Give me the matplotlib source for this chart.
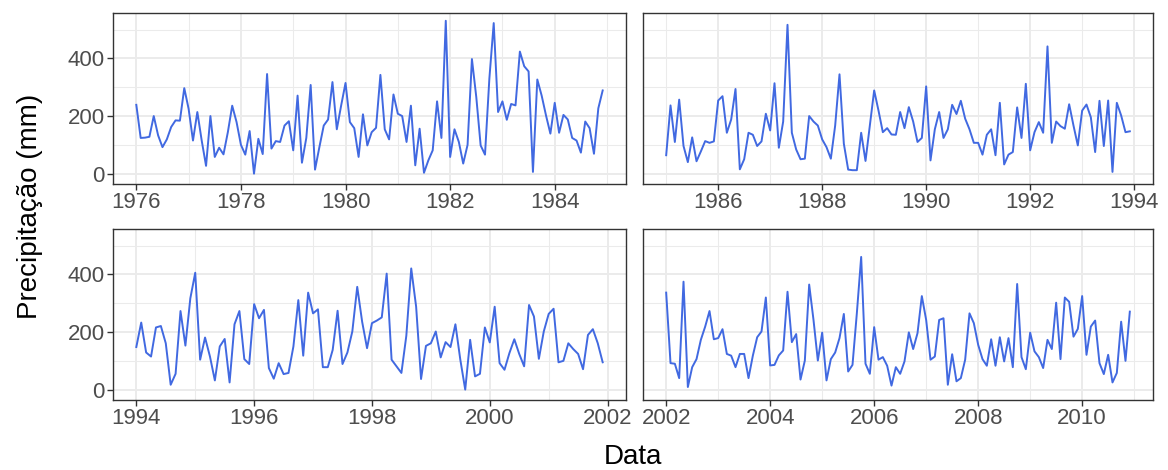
#!/usr/bin/env python3
"""
Monthly precipitation 1976-2010, split in four panels (ggplot theme_bw look).
"""

import numpy as np
import matplotlib
matplotlib.use('Agg')
import matplotlib.pyplot as plt

plt.rcParams['font.family'] = ['Liberation Sans', 'DejaVu Sans']

# monthly values (mm), one list per panel, Jan..Dec for each year
start_years = [1976, 1985, 1994, 2002]

precip_1976_1984 = [
    239, 124, 125, 128, 200, 133, 92, 119, 162, 185, 184, 297,
    225, 115, 214, 115, 27, 200, 58, 90, 67, 144, 236, 179,
    100, 66, 148, 0, 121, 68, 346, 87, 113, 110, 167, 182,
    81, 271, 38, 124, 308, 14, 92, 167, 188, 318, 154, 237,
    315, 179, 158, 58, 206, 98, 144, 159, 343, 154, 119, 275,
    208, 200, 110, 236, 29, 156, 3, 46, 81, 251, 124, 531,
    58, 154, 110, 35, 100, 398, 266, 98, 66, 330, 523, 214,
    251, 187, 242, 237, 424, 373, 355, 6, 327, 271, 202, 139,
    246, 142, 204, 188, 124, 115, 73, 181, 158, 69, 227, 289,
]

precip_1985_1993 = [
    64, 237, 110, 257, 96, 40, 126, 43, 77, 113, 107, 112,
    254, 269, 142, 188, 294, 15, 50, 142, 135, 96, 112, 208,
    150, 314, 90, 181, 517, 142, 84, 50, 52, 200, 181, 167,
    119, 92, 52, 167, 345, 104, 14, 12, 12, 142, 44, 167,
    289, 219, 144, 158, 136, 135, 214, 158, 231, 181, 110, 124,
    303, 46, 154, 214, 124, 154, 239, 207, 253, 191, 154, 107,
    107, 66, 135, 154, 64, 246, 32, 66, 75, 230, 124, 312,
    81, 144, 179, 142, 442, 107, 181, 165, 156, 241, 167, 98,
    219, 240, 196, 75, 253, 96, 254, 6, 246, 202, 144, 147,
]

precip_1994_2001 = [
    148, 233, 129, 115, 216, 221, 161, 17, 55, 273, 153, 317,
    406, 104, 181, 115, 32, 150, 176, 25, 227, 273, 106, 89,
    297, 248, 277, 75, 38, 92, 54, 58, 150, 311, 118, 337,
    265, 279, 78, 78, 138, 274, 89, 129, 202, 357, 236, 144,
    231, 240, 251, 403, 104, 81, 58, 187, 421, 288, 37, 152,
    161, 202, 112, 165, 148, 227, 104, 0, 173, 46, 55, 216,
    164, 288, 92, 69, 127, 175, 124, 81, 294, 254, 107, 202,
    263, 281, 95, 100, 161, 141, 124, 71, 190, 210, 161, 95,
]

precip_2002_2010 = [
    337, 92, 90, 40, 375, 9, 78, 106, 173, 219, 273, 175,
    179, 210, 124, 118, 78, 124, 124, 40, 118, 182, 202, 320,
    84, 86, 119, 136, 340, 165, 193, 35, 101, 365, 242, 101,
    198, 32, 106, 129, 179, 263, 63, 86, 265, 461, 90, 55,
    217, 104, 113, 83, 14, 78, 55, 98, 199, 141, 196, 325,
    242, 104, 115, 242, 248, 17, 123, 29, 40, 104, 265, 231,
    156, 106, 83, 175, 83, 182, 98, 179, 78, 367, 113, 71,
    198, 133, 113, 75, 173, 141, 302, 106, 320, 305, 184, 211,
    325, 121, 219, 240, 92, 54, 121, 25, 58, 236, 100, 271,
]

panels = [precip_1976_1984, precip_1985_1993, precip_1994_2001, precip_2002_2010]

W, H = 1168, 470
LINE_COLOR = '#4169E1'
GRID_COLOR = '#EBEBEB'
BORDER_COLOR = '#333333'
TICK_LABEL_COLOR = '#4D4D4D'

# panel rectangles in pixels: left, top, right, bottom
rects = [
    (113, 13, 626, 184),
    (643, 13, 1153, 184),
    (113, 229, 626, 400),
    (643, 229, 1153, 400),
]


def style_panel(ax, x0, x1, left_col):
    """theme_bw-like decoration for one facet."""
    ax.set_xlim(x0, x1)
    ax.set_ylim(-36, 558)
    ax.set_facecolor('white')

    first = int(np.ceil(x0))
    majors = [y for y in range(first, int(x1) + 1) if y % 2 == 0]
    minors = [y for y in range(first, int(x1) + 1) if y % 2 == 1]
    for v in minors:
        ax.axvline(v, color=GRID_COLOR, lw=0.75, zorder=0)
    for v in majors:
        ax.axvline(v, color=GRID_COLOR, lw=1.4, zorder=0)
    for v in [100, 300, 500]:
        ax.axhline(v, color=GRID_COLOR, lw=0.75, zorder=0)
    for v in [0, 200, 400]:
        ax.axhline(v, color=GRID_COLOR, lw=1.4, zorder=0)

    ax.set_xticks(majors)
    ax.set_xticklabels([str(v) for v in majors])
    ax.set_yticks([0, 200, 400])
    ax.tick_params(axis='both', colors=BORDER_COLOR, labelcolor=TICK_LABEL_COLOR,
                   labelsize=16, length=4, width=1.0, pad=2)
    if not left_col:
        ax.tick_params(axis='y', left=False, labelleft=False)

    for sp in ax.spines.values():
        sp.set_color(BORDER_COLOR)
        sp.set_linewidth(1.0)


def main():
    fig = plt.figure(figsize=(W / 100, H / 100), dpi=100)
    fig.patch.set_facecolor('white')

    for i, (values, y0) in enumerate(zip(panels, start_years)):
        left, top, right, bottom = rects[i]
        ax = fig.add_axes([left / W, 1 - bottom / H, (right - left) / W, (bottom - top) / H])
        x = y0 + np.arange(len(values)) / 12.0
        ax.plot(x, values, color=LINE_COLOR, lw=1.4, zorder=3)
        span = x[-1] - x[0]
        style_panel(ax, x[0] - 0.05 * span, x[-1] + 0.05 * span, left_col=(i % 2 == 0))

    fig.text(633 / W, 1 - 457 / H, 'Data', ha='center', va='center', fontsize=20)
    fig.text(30 / W, 1 - 206 / H, 'Precipitação (mm)', ha='center', va='center',
             rotation=90, fontsize=20)

    fig.savefig('out.png', dpi=100)
    plt.close(fig)


if __name__ == "__main__":
    main()
